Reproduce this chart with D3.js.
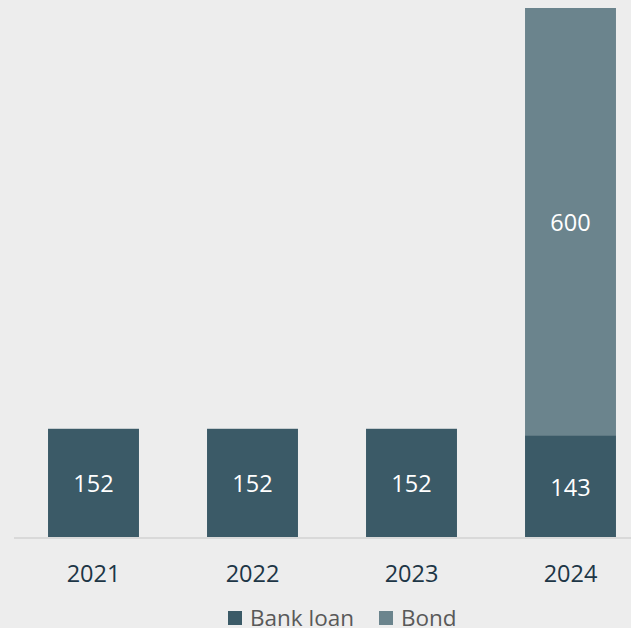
<!DOCTYPE html>
<html lang="en">
<head>
<title>Bank loan vs bond</title>
<meta charset="utf-8">
<script src="https://cdn.jsdelivr.net/npm/d3@7"></script>
<style type="text/css">
body {
	margin: 0;
	background: #ededed;
	font-family: 'Open Sans', sans-serif;
}
</style>
</head>
<body>

<div id="vis"></div>

<script>

/* Data */
/* ==== */

var years = ['2021', '2022', '2023', '2024'];
var bankLoan = [152, 152, 152, 143];
var bond = [0, 0, 0, 600];
var seriesNames = ['Bank loan', 'Bond'];
var colors = ['#3b5a67', '#6b848d'];


/* Globals and SVG */
/* =============== */

var width = 631,
		height = 628,
		baseline = 537;

var svg = d3.select('#vis')
	.append('svg')
		.attr('width', width)
		.attr('height', height)
		.style('display', 'block');

var rows = years.map(function(y, i) {
	return { year: y, loan: bankLoan[i], bond: bond[i] };
});

var stack = d3.stack().keys(['loan', 'bond']);
var series = stack(rows);

var x = d3.scaleBand()
	.domain(years)
	.range([14, 650])
	.paddingInner(0.428)
	.paddingOuter(0.214);

var y = d3.scaleLinear()
	.domain([0, d3.max(rows, function(d) { return d.loan + d.bond; })])
	.range([baseline, 8]);


/* Bars */
/* ==== */

var layers = svg.selectAll('.layer')
	.data(series)
	.enter().append('g')
		.attr('class', 'layer')
		.attr('fill', function(d, i) { return colors[i]; });

layers.selectAll('rect')
	.data(function(d) { return d.filter(function(s) { return s[1] > s[0]; }); })
	.enter().append('rect')
		.attr('x', function(d) { return x(d.data.year); })
		.attr('y', function(d) { return y(d[1]); })
		.attr('width', x.bandwidth())
		.attr('height', function(d) { return y(d[0]) - y(d[1]); });

layers.selectAll('text')
	.data(function(d) { return d.filter(function(s) { return s[1] > s[0]; }); })
	.enter().append('text')
		.attr('x', function(d) { return x(d.data.year) + x.bandwidth() / 2; })
		.attr('y', function(d) { return (y(d[0]) + y(d[1])) / 2 + 1; })
		.attr('dy', '0.36em')
		.attr('text-anchor', 'middle')
		.attr('fill', '#fff')
		.style('font-size', '23.5px')
		.text(function(d) { return d[1] - d[0]; });


/* Axis */
/* ==== */

svg.append('line')
	.attr('x1', 14)
	.attr('x2', width)
	.attr('y1', baseline + 1)
	.attr('y2', baseline + 1)
	.attr('stroke', '#d9d9d9')
	.attr('stroke-width', 2);

svg.selectAll('.year')
	.data(years)
	.enter().append('text')
		.attr('class', 'year')
		.attr('x', function(d) { return x(d) + x.bandwidth() / 2; })
		.attr('y', 574)
		.attr('dy', '0.36em')
		.attr('text-anchor', 'middle')
		.attr('fill', '#1d3646')
		.style('font-size', '23.5px')
		.text(function(d) { return d; });


/* Legend */
/* ====== */

var legendX = [228, 379];

var legend = svg.selectAll('.legend')
	.data(seriesNames)
	.enter().append('g')
		.attr('class', 'legend')
		.attr('transform', function(d, i) { return 'translate(' + legendX[i] + ', 611)'; });

legend.append('rect')
	.attr('width', 14)
	.attr('height', 14)
	.attr('fill', function(d, i) { return colors[i]; });

legend.append('text')
	.attr('x', 22)
	.attr('y', 7)
	.attr('dy', '0.36em')
	.attr('fill', '#595959')
	.style('font-size', '22.5px')
	.text(function(d) { return d; });

</script>
</body>
</html>
